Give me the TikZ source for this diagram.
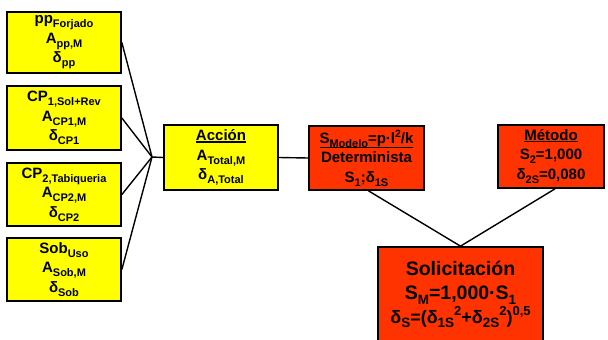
\documentclass[tikz,border=0pt]{standalone}
\usepackage{fontspec}
\setmainfont{Liberation Sans}
\newcommand\lo[1]{\raisebox{-0.26em}{\fontsize{11}{11}\selectfont #1}}
\newcommand\hi[1]{\raisebox{0.42em}{\fontsize{10.5}{10.5}\selectfont #1}}
\newcommand\loB[1]{\raisebox{-0.26em}{\fontsize{13.5}{13.5}\selectfont #1}}
\newcommand\hiB[1]{\raisebox{0.42em}{\fontsize{13}{13}\selectfont #1}}
\newcommand\ulx[2][1.8pt]{\setbox0\hbox{#2}\rlap{\rule[-#1]{\wd0}{1.3pt}}\box0}
\definecolor{ybox}{HTML}{FFFF00}
\definecolor{rbox}{HTML}{FF3300}
\begin{document}
\begin{tikzpicture}[x=1pt,y=-1pt,
  box/.style={draw=black,line width=1.7pt,inner sep=0pt,align=center,
    font=\fontsize{15}{19.5}\selectfont\bfseries},
  ybx/.style={box,fill=ybox,minimum width=114pt},
  rbx/.style={box,fill=rbox},
  conn/.style={draw=black,line width=1.4pt}]
\useasboundingbox (0,0) rectangle (608,340);
\fill[white] (0,0) rectangle (608,340);
\node[ybx,minimum height=61pt] (pp) at (64,42.5) {pp\lo{Forjado}\\A\lo{pp,M}\\δ\lo{pp}};
\node[ybx,minimum height=64pt] (cp1) at (64,118) {CP\lo{1,Sol+Rev}\\A\lo{CP1,M}\\δ\lo{CP1}};
\node[ybx,minimum height=63pt] (cp2) at (64,194.5) {CP\lo{2,Tabiqueria}\\A\lo{CP2,M}\\δ\lo{CP2}};
\node[ybx,minimum height=63pt] (sob) at (64,269.5) {Sob\lo{Uso}\\A\lo{Sob,M}\\δ\lo{Sob}};
\coordinate (j) at (152,157);
\node[ybx,minimum height=65pt] (acc) at (221,157.5) {\ulx{Acción}\\A\lo{Total,M}\\δ\lo{A,Total}};
\node[rbx,minimum width=115pt,minimum height=64pt] (mod) at (366.5,158) {\ulx[5pt]{S\lo{Modelo}=p·l\hi{2}/k}\\Determinista\\S\lo{1};δ\lo{1S}};
\node[rbx,minimum width=106pt,minimum height=63pt] (met) at (551,156.5) {\ulx{Método}\\S\lo{2}=1,000\\δ\lo{2S}=0,080};
\node[rbx,minimum width=165pt,minimum height=95pt,font=\fontsize{19.5}{24}\selectfont\bfseries] (sol) at (460.5,294.5) {Solicitación\\S\loB{M}=1,000·S\loB{1}\\\fontsize{18}{22}\selectfont δ\loB{S}=(δ\loB{1S}\hiB{2}+δ\loB{2S}\hiB{2})\hiB{0,5}};
\foreach \b in {pp,cp1,cp2,sob} \draw[conn] (\b.east) -- (j);
\draw[conn] (j) -- (acc.west);
\draw[conn] (acc.east) -- (mod.west);
\draw[conn] ([xshift=2pt]mod.south) -- (sol.north);
\draw[conn] ([xshift=4pt]met.south) -- (sol.north);
\end{tikzpicture}
\end{document}
